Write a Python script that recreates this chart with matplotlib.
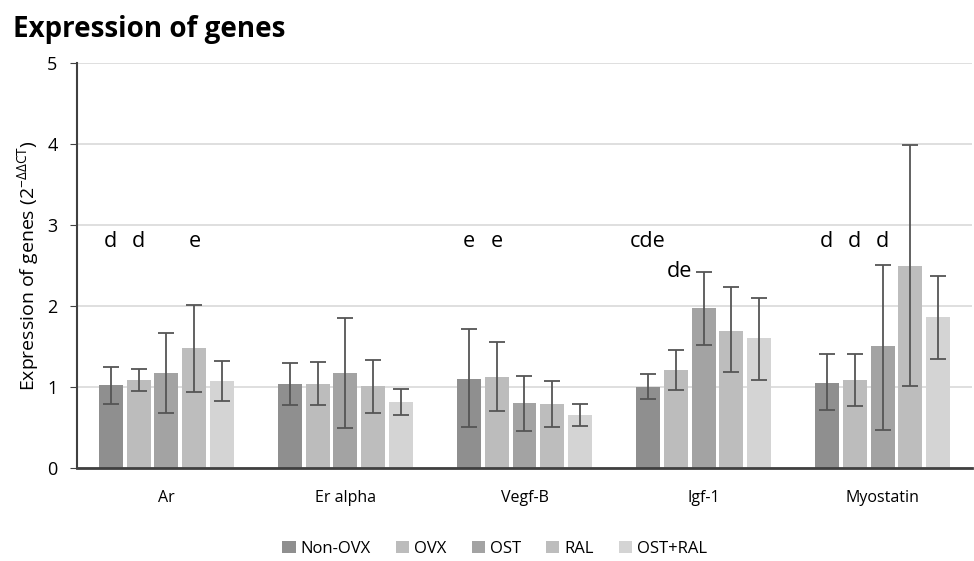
import matplotlib
matplotlib.use("Agg")
import matplotlib.pyplot as plt
import numpy as np

plt.rcParams['font.family'] = ['Open Sans', 'DejaVu Sans']
plt.rcParams['mathtext.fontset'] = 'custom'
plt.rcParams['mathtext.rm'] = 'Open Sans'

genes = ["Ar", "Er alpha", "Vegf-B", "Igf-1", "Myostatin"]
groups = ["Non-OVX", "OVX", "OST", "RAL", "OST+RAL"]
colors = ["#8f8f8f", "#bcbcbc", "#a3a3a3", "#bdbdbd", "#d4d4d4"]

# mean values, one list per group (across genes)
means = [
    [1.02, 1.03, 1.10, 1.00, 1.05],
    [1.08, 1.04, 1.12, 1.21, 1.09],
    [1.17, 1.17, 0.80, 1.97, 1.50],
    [1.48, 1.01, 0.79, 1.69, 2.49],
    [1.07, 0.81, 0.65, 1.60, 1.86],
]
# error bar upper / lower ends
err_hi = [
    [1.25, 1.29, 1.72, 1.16, 1.40],
    [1.22, 1.31, 1.55, 1.45, 1.40],
    [1.67, 1.85, 1.14, 2.42, 2.51],
    [2.01, 1.33, 1.07, 2.23, 3.99],
    [1.32, 0.97, 0.79, 2.10, 2.37],
]
err_lo = [
    [0.79, 0.77, 0.50, 0.85, 0.72],
    [0.95, 0.77, 0.70, 0.96, 0.76],
    [0.68, 0.49, 0.46, 1.52, 0.47],
    [0.94, 0.68, 0.51, 1.18, 1.01],
    [0.83, 0.65, 0.52, 1.08, 1.35],
]

# significance letters: (gene index, group index, text, y)
letters = [
    (0, 0, "d", 2.8), (0, 1, "d", 2.8), (0, 3, "e", 2.8),
    (2, 0, "e", 2.8), (2, 1, "e", 2.8),
    (3, 0, "cde", 2.8), (3, 2, "de", 2.43),
    (4, 0, "d", 2.8), (4, 1, "d", 2.8), (4, 2, "d", 2.8),
]

fig = plt.figure(figsize=(9.74, 5.61), dpi=100)
ax = fig.add_axes([0.079, 0.166, 0.919, 0.722])

x = np.arange(len(genes))
step = 0.156
width = 0.134
for i, g in enumerate(groups):
    pos = x + (i - 2) * step
    m = np.array(means[i])
    yerr = [m - np.array(err_lo[i]), np.array(err_hi[i]) - m]
    ax.bar(pos, m, width, color=colors[i], label=g, zorder=2)
    ax.errorbar(pos, m, yerr=yerr, fmt='none', ecolor='#555555',
                elinewidth=1.3, capsize=6, capthick=1.3, zorder=3)

for gi, k, txt, yv in letters:
    px = x[gi] + (k - 2) * step
    if txt == "de":
        ax.text(px - 0.065, yv, txt, ha='right', va='center', fontsize=15.5)
    else:
        ax.text(px, yv, txt, ha='center', va='center', fontsize=15.5)

ax.set_xlim(-0.5, 4.5)
ax.set_ylim(0, 5)
ax.set_yticks([0, 1, 2, 3, 4, 5])
ax.yaxis.grid(True, color='#d9d9d9', linewidth=1.2, zorder=0)
ax.set_axisbelow(True)
ax.set_xticks(x)
ax.set_xticklabels(genes, fontsize=11.5)
ax.tick_params(axis='x', length=0, pad=16)
ax.tick_params(axis='y', labelsize=13, length=5, color='#404040', pad=9)
for s in ['top', 'right']:
    ax.spines[s].set_visible(False)
ax.spines['left'].set_color('#404040')
ax.spines['left'].set_linewidth(1.5)
ax.spines['bottom'].set_color('#404040')
ax.spines['bottom'].set_linewidth(2)

ax.set_ylabel(r'Expression of genes (2$^{\mathregular{-ΔΔCT}}$)', fontsize=14, labelpad=4)

fig.text(0.013, 0.948, "Expression of genes", fontsize=20, fontweight='bold', va='center')

fig.legend(loc='center', bbox_to_anchor=(0.508, 0.022), ncol=5, frameon=False,
           fontsize=12, handlelength=0.8, handleheight=0.8, handletextpad=0.3,
           columnspacing=1.5)

fig.savefig("out.png", dpi=100)
